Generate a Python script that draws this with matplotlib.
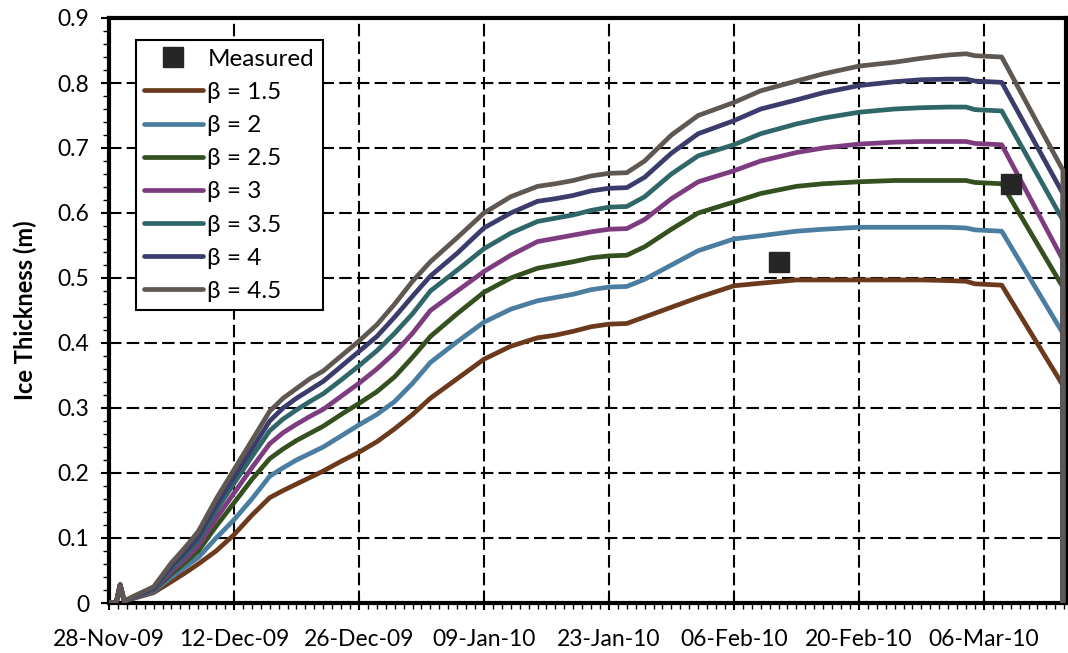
import matplotlib
matplotlib.use("Agg")
import matplotlib.pyplot as plt
import matplotlib.dates as mdates
from matplotlib.ticker import MultipleLocator, FormatStrFormatter
import datetime as dt

plt.rcParams['font.family'] = ['Lato', 'DejaVu Sans']

# Days since 28-Nov-2009 at which the simulated thickness is listed
days = [0, 0.8, 1.25, 1.7, 3, 5, 7, 8.5, 10, 12, 14, 16, 18, 19.5, 21, 22.5, 24, 26,
        28, 30, 32, 34, 36, 39, 42, 45, 48, 50, 52, 54, 56, 58, 60, 63, 66, 70, 73,
        77, 80, 84, 88, 91, 94, 96, 97, 100, 106.85, 106.85]

beta_labels = ["β = 1.5", "β = 2", "β = 2.5", "β = 3", "β = 3.5", "β = 4", "β = 4.5"]

beta_1_5 = [0, 0, 0.028, 0.003, 0.008, 0.016, 0.033, 0.046, 0.06, 0.08, 0.105, 0.135,
            0.162, 0.173, 0.183, 0.193, 0.203, 0.218, 0.232, 0.248, 0.268, 0.29, 0.315,
            0.345, 0.375, 0.395, 0.408, 0.412, 0.418, 0.425, 0.429, 0.43, 0.44, 0.455,
            0.47, 0.488, 0.492, 0.497, 0.497, 0.497, 0.497, 0.497, 0.496, 0.495, 0.491,
            0.489, 0.335, 0]
beta_2 = [0, 0, 0.028, 0.003, 0.009, 0.018, 0.04, 0.055, 0.07, 0.1, 0.128, 0.16, 0.195,
          0.208, 0.22, 0.23, 0.24, 0.257, 0.274, 0.29, 0.31, 0.338, 0.37, 0.402, 0.432,
          0.452, 0.465, 0.47, 0.475, 0.482, 0.486, 0.487, 0.498, 0.52, 0.542, 0.56, 0.565,
          0.572, 0.575, 0.578, 0.578, 0.578, 0.578, 0.577, 0.574, 0.572, 0.415, 0]
beta_2_5 = [0, 0, 0.028, 0.003, 0.01, 0.02, 0.045, 0.062, 0.08, 0.118, 0.154, 0.19,
            0.222, 0.237, 0.25, 0.261, 0.272, 0.29, 0.307, 0.325, 0.348, 0.378, 0.41,
            0.445, 0.478, 0.5, 0.515, 0.52, 0.525, 0.531, 0.534, 0.535, 0.548, 0.575,
            0.6, 0.617, 0.63, 0.641, 0.645, 0.648, 0.65, 0.65, 0.65, 0.65, 0.647, 0.645,
            0.486, 0]
beta_3 = [0, 0, 0.028, 0.003, 0.01, 0.021, 0.049, 0.067, 0.088, 0.13, 0.169, 0.208,
          0.245, 0.262, 0.275, 0.287, 0.298, 0.318, 0.338, 0.36, 0.385, 0.415, 0.45,
          0.48, 0.51, 0.535, 0.556, 0.561, 0.566, 0.571, 0.575, 0.576, 0.59, 0.622,
          0.648, 0.665, 0.68, 0.693, 0.7, 0.706, 0.709, 0.71, 0.71, 0.71, 0.707, 0.705,
          0.528, 0]
beta_3_5 = [0, 0, 0.028, 0.003, 0.011, 0.022, 0.053, 0.073, 0.096, 0.142, 0.184, 0.225,
            0.265, 0.283, 0.297, 0.31, 0.322, 0.343, 0.365, 0.388, 0.415, 0.445, 0.48,
            0.512, 0.545, 0.569, 0.587, 0.592, 0.597, 0.604, 0.609, 0.61, 0.625, 0.66,
            0.688, 0.705, 0.722, 0.737, 0.746, 0.755, 0.76, 0.762, 0.763, 0.763, 0.759,
            0.757, 0.589, 0]
beta_4 = [0, 0, 0.028, 0.003, 0.011, 0.023, 0.057, 0.078, 0.102, 0.15, 0.194, 0.237,
          0.28, 0.3, 0.315, 0.328, 0.341, 0.364, 0.387, 0.41, 0.44, 0.472, 0.503, 0.538,
          0.577, 0.6, 0.618, 0.622, 0.627, 0.634, 0.638, 0.639, 0.655, 0.692, 0.722,
          0.742, 0.76, 0.774, 0.785, 0.796, 0.802, 0.805, 0.806, 0.806, 0.803, 0.801,
          0.63, 0]
beta_4_5 = [0, 0, 0.028, 0.003, 0.012, 0.025, 0.062, 0.085, 0.11, 0.16, 0.205, 0.25,
            0.295, 0.315, 0.33, 0.345, 0.357, 0.38, 0.403, 0.428, 0.46, 0.495, 0.525,
            0.562, 0.6, 0.625, 0.641, 0.645, 0.65, 0.657, 0.661, 0.662, 0.68, 0.72,
            0.75, 0.77, 0.788, 0.803, 0.814, 0.826, 0.832, 0.838, 0.843, 0.845, 0.842,
            0.84, 0.666, 0]

measured_dates = ["2010-02-11", "2010-03-09"]
measured_thickness = [0.525, 0.645]

x_tick_dates = ["2009-11-28", "2009-12-12", "2009-12-26", "2010-01-09",
                "2010-01-23", "2010-02-06", "2010-02-20", "2010-03-06"]

colors = ["#6B3A1C", "#4A7DA0", "#35501F", "#7E3C80", "#2F6668", "#3B3C6B", "#5F5751"]

start = dt.datetime(2009, 11, 28)
t = [start + dt.timedelta(days=d) for d in days]
series = [beta_1_5, beta_2, beta_2_5, beta_3, beta_3_5, beta_4, beta_4_5]

fig = plt.figure(figsize=(10.68, 6.53), dpi=100)
ax = fig.add_axes([109 / 1068, 1 - 603 / 653, 957 / 1068, 585 / 653])

meas_t = [dt.datetime.strptime(s, "%Y-%m-%d") for s in measured_dates]
ax.plot(meas_t, measured_thickness, linestyle="none", marker="s", markersize=15,
        color="#262626", label="Measured", zorder=5)

for vals, lab, c in zip(series, beta_labels, colors):
    ax.plot(t, vals, color=c, lw=3.4, label=lab, solid_capstyle="round",
            solid_joinstyle="round", zorder=3)

ax.set_xlim(start, start + dt.timedelta(days=107.2))
ax.set_ylim(0, 0.9)

ax.set_xticks([dt.datetime.strptime(s, "%Y-%m-%d") for s in x_tick_dates])
ax.xaxis.set_major_formatter(mdates.DateFormatter("%d-%b-%y"))
ax.xaxis.set_minor_locator(mdates.DayLocator())
ax.yaxis.set_major_locator(MultipleLocator(0.1))
ax.yaxis.set_major_formatter(FormatStrFormatter("%g"))
ax.yaxis.set_minor_locator(MultipleLocator(0.02))

ax.tick_params(axis="x", which="major", direction="inout", length=10, width=1.5,
               labelsize=16.5, pad=14)
ax.tick_params(axis="x", which="minor", direction="out", length=4, width=1)
ax.tick_params(axis="y", which="major", direction="out", length=6, width=1.5,
               labelsize=16.5, pad=8)
ax.tick_params(axis="y", which="minor", direction="out", length=4, width=1)

ax.grid(True, which="major", color="black", lw=1.5, linestyle=(0, (6, 2.5)), zorder=0)
ax.set_axisbelow(True)

for sp in ax.spines.values():
    sp.set_linewidth(3)
    sp.set_color("black")

ax.set_ylabel("Ice Thickness (m)", fontsize=17, fontweight="bold", labelpad=15)

leg = ax.legend(loc="upper left", bbox_to_anchor=(0.028, 0.962), fontsize=17.5,
                frameon=True, fancybox=False, framealpha=1, edgecolor="black",
                handlelength=2.4, handletextpad=0.2, labelspacing=0.5,
                borderpad=0.35, borderaxespad=0)
leg.get_frame().set_linewidth(1.5)

fig.savefig("out.png", dpi=100)
